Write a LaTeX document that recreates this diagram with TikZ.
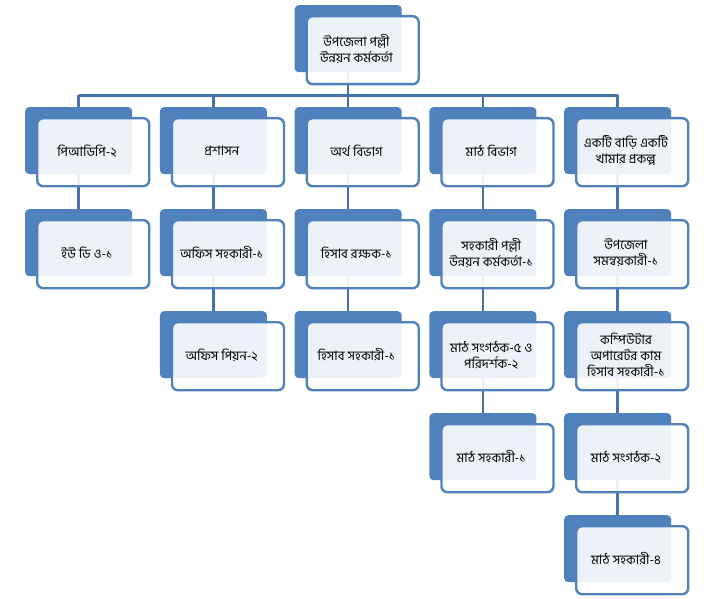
\documentclass[tikz,border=0pt]{standalone}
\usepackage{fontspec}
\newfontfamily\bnfont[Script=Bengali]{Hind Siliguri}
\usetikzlibrary{positioning}
\definecolor{accent}{HTML}{4F81BD}
\definecolor{framec}{HTML}{4F81BD}
\definecolor{linkc}{HTML}{4672AC}
\pgfdeclarelayer{bg}
\pgfsetlayers{bg,main}
\tikzset{
  x=1pt, y=-1pt,
  bluebox/.style={fill=accent, draw=none, rounded corners=4pt, minimum width=107pt, minimum height=67pt, inner sep=0pt, anchor=north west},
  whitebox/.style={fill=white, fill opacity=0.9, draw=framec, draw opacity=1, line width=2.4pt, rounded corners=6pt, minimum width=112pt, minimum height=68pt, inner sep=0pt, anchor=north west},
  txt/.style={font=\bnfont\fontsize{13}{16}\selectfont, align=center, inner sep=0pt, text=black},
  link/.style={draw=linkc, line width=2.5pt}
}
\newcommand\orgbox[4]{%
  \node[bluebox] (#1) at (#2,#3) {};
  \node[whitebox] (#1w) at ([shift={(11pt,-10pt)}]#1.north west) {};
  \node[txt] (#1t) at ([shift={(62pt,-44pt)}]#1.north west) {#4};
}
\begin{document}
\begin{tikzpicture}
\useasboundingbox (0,0) rectangle (707,599);
\orgbox{top}{294.5}{5}{উপজেলা পল্লী\\উন্নয়ন কর্মকর্তা}
% row 1
\orgbox{a1}{25}{107}{পিআডিপি-২}
\orgbox{b1}{159.75}{107}{প্রশাসন}
\orgbox{c1}{294.5}{107}{অর্থ বিভাগ}
\orgbox{d1}{429.25}{107}{মাঠ বিভাগ}
\orgbox{e1}{564}{107}{একটি বাড়ি একটি\\খামার প্রকল্প}
% row 2
\orgbox{a2}{25}{209}{ইউ ডি ও-১}
\orgbox{b2}{159.75}{209}{অফিস সহকারী-১}
\orgbox{c2}{294.5}{209}{হিসাব রক্ষক-১}
\orgbox{d2}{429.25}{209}{সহকারী পল্লী\\উন্নয়ন কর্মকর্তা-১}
\orgbox{e2}{564}{209}{উপজেলা\\সমন্বয়কারী-১}
% row 3
\orgbox{b3}{159.75}{311}{অফিস পিয়ন-২}
\orgbox{c3}{294.5}{311}{হিসাব সহকারী-১}
\orgbox{d3}{429.25}{311}{মাঠ সংগঠক-৫ ও\\পরিদর্শক-২}
\orgbox{e3}{564}{311}{কম্পিউটার\\অপারেটর কাম\\হিসাব সহকারী-১}
% row 4
\orgbox{d4}{429.25}{413}{মাঠ সহকারী-১}
\orgbox{e4}{564}{413}{মাঠ সংগঠক-২}
% row 5
\orgbox{e5}{564}{515}{মাঠ সহকারী-৪}
\begin{pgfonlayer}{bg}
  \coordinate (bus) at (0,95.5);
  \draw[link] (top.center) -- (top.center |- bus);
  \draw[link] (a1.center |- bus) -- (e1.center |- bus);
  \foreach \c in {a1,b1,c1,d1,e1} {\draw[link] (\c.center |- bus) -- (\c.center);}
  \draw[link] (a1.center) -- (a2.center);
  \draw[link] (b1.center) -- (b2.center);
  \draw[link] (b2.center) -- (b3.center);
  \draw[link] (c1.center) -- (c2.center);
  \draw[link] (c2.center) -- (c3.center);
  \draw[link] (d1.center) -- (d2.center);
  \draw[link] (d2.center) -- (d3.center);
  \draw[link] (d3.center) -- (d4.center);
  \draw[link] (e1.center) -- (e2.center);
  \draw[link] (e2.center) -- (e3.center);
  \draw[link] (e3.center) -- (e4.center);
  \draw[link] (e4.center) -- (e5.center);
\end{pgfonlayer}
\end{tikzpicture}
\end{document}
